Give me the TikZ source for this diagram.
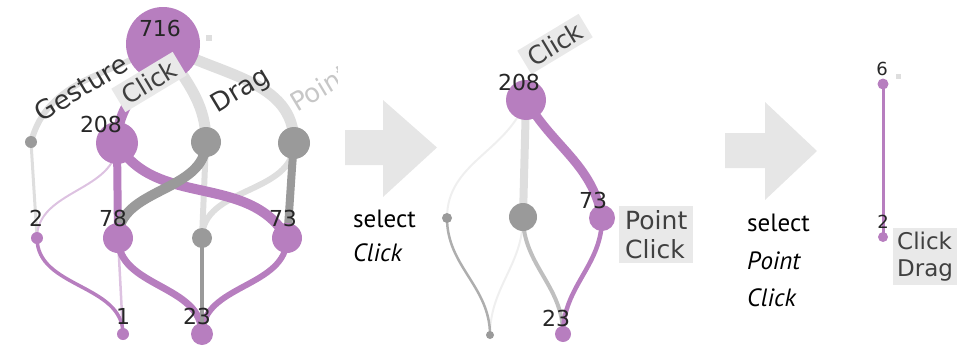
\documentclass[tikz,border=0pt]{standalone}
\usepackage{fontspec}
\setmainfont{DejaVu Sans}
\newfontfamily\notefont{PT Sans}
\begin{document}
\begin{tikzpicture}[x=1pt,y=-1pt,
  lbl/.style={font=\fontsize{26}{28}\selectfont, text=black!80, inner sep=0pt},
  num/.style={font=\fontsize{22}{24}\selectfont, text=black!85, inner sep=0pt},
  tag/.style={font=\fontsize{25}{29}\selectfont, text=black!75, fill=tagbg, inner sep=3pt, align=left},
  note/.style={font=\notefont\fontsize{25}{28}\selectfont, text=black, inner sep=0pt, anchor=west},
  dot/.style={circle, inner sep=0pt, minimum size=#1},
  pdot/.style={dot=#1, fill=pu},
  gdot/.style={dot=#1, fill=dg},
  flow/.style={line cap=round},
  vs/.style={out=-90,in=90},
  bigarrow/.style={fill=arrowbg},
]
\definecolor{pu}{HTML}{B77EBF}
\definecolor{lpu}{HTML}{DDC2E1}
\definecolor{dg}{HTML}{9A9A9A}
\definecolor{lg}{HTML}{DEDEDE}
\definecolor{vlg}{HTML}{EFEFEF}
\definecolor{tagbg}{HTML}{E9E9E9}
\definecolor{arrowbg}{HTML}{E6E6E6}
\useasboundingbox (0,0) rectangle (963,348);

% ---------- first level tree ----------
\coordinate (root) at (163,44);
\coordinate (ges)  at (31,142);
\coordinate (c208) at (117,143);
\coordinate (drag) at (206,142);
\coordinate (pnt)  at (294,143);
\coordinate (n2)   at (37,238);
\coordinate (n78)  at (118,238);
\coordinate (gs)   at (202,238);
\coordinate (n73)  at (287,238);
\coordinate (n1)   at (123,334);
\coordinate (n23)  at (202,334);

% light flows
\draw[flow, lg, line width=6pt] (root) to[out=-150,in=75] (ges);
\draw[flow, lg, line width=11pt] (root) to[out=-60,in=90] (drag);
\draw[flow, lg, line width=11pt] (root) to[out=-30,in=90] (pnt);
\draw[flow, lg, line width=3pt] (ges) -- (n2);
\draw[flow, lg, line width=6pt] (drag) -- (gs);
\draw[flow, lg, line width=6pt] (pnt) to[vs] (gs);
\draw[flow, lpu, line width=2pt] (c208) to[vs] (n2);
\draw[flow, lpu, line width=2.5pt] (n78) -- (n1);
% selected flows
\draw[flow, pu, line width=10pt] (root) to[out=-110,in=90] (c208);
\draw[flow, pu, line width=8pt] (c208) -- (n78);
\draw[flow, pu, line width=10pt] (c208) to[out=-60,in=120] (n73);
\draw[flow, pu, line width=3.5pt] (n2) to[vs] (n1);
\draw[flow, pu, line width=7pt] (n78) to[vs] (n23);
\draw[flow, pu, line width=6pt] (n73) to[vs] (n23);
% dark flows
\draw[flow, dg, line width=10pt] (drag) to[vs] (n78);
\draw[flow, dg, line width=8pt] (pnt) to[out=-95,in=85] (n73);
\draw[flow, dg, line width=4pt] (gs) -- (n23);

% nodes
\node[pdot=74pt] (Root) at (root) {};
\fill[lg] (206,35) rectangle (212,41);
\node[gdot=12pt] (Ges) at (ges) {};
\node[pdot=42pt] (C208) at (c208) {};
\node[gdot=30pt] (Drag) at (drag) {};
\node[gdot=32pt] (Pnt) at (pnt) {};
\node[pdot=12pt] (N2) at (n2) {};
\node[pdot=30pt] (N78) at (n78) {};
\node[gdot=20pt] (Gs) at (gs) {};
\node[pdot=30pt] (N73) at (n73) {};
\node[pdot=12pt] (N1) at (n1) {};
\node[pdot=22pt] (N23) at (n23) {};

% labels
\node[lbl, rotate=31] at (81,88) {Gesture};
\node[tag, rotate=31, inner xsep=6pt, inner ysep=4pt] at (149,82) {Click};
\node[lbl, rotate=31] at (241,91) {Drag};
\begin{scope}
  \clip (290,60) rectangle (337,130);
  \node[lbl, rotate=31, text=black!22, anchor=base west] at (297,113) {Point};
\end{scope}
\node[num] at (160,28) {716};
\node[num] at (101,124) {208};
\node[num] at (36,218) {2};
\node[num] at (113,218) {78};
\node[num] at (283,218) {73};
\node[num] at (123,316) {1};
\node[num] at (197,316) {23};

% ---------- first step ----------
\fill[bigarrow] (345,130) -- (383,130) -- (383,100) -- (437,147.5) -- (383,197) -- (383,165) -- (345,165) -- cycle;
\node[note] at (353,219) {select};
\node[note] at (353,253) {\itshape Click};

% ---------- second level tree ----------
\coordinate (b208) at (526,100);
\coordinate (bgm)  at (523,217);
\coordinate (bgs)  at (447,218);
\coordinate (b73)  at (602,218);
\coordinate (bgb)  at (490,335);
\coordinate (b23)  at (563,334);

\draw[flow, vlg, line width=2pt] (b208) to[out=-110,in=90] (bgs);
\draw[flow, vlg, line width=2pt] (bgm) to[vs] (bgb);
\draw[flow, lg, line width=8pt] (b208) -- (bgm);
\draw[flow, black!25, line width=4pt] (bgm) to[vs] (b23);
\draw[flow, dg!80, line width=2.5pt] (bgs) to[vs] (bgb);
\draw[flow, pu, line width=9pt] (b208) to[out=-60,in=100] (b73);
\draw[flow, pu, line width=4.5pt] (b73) to[vs] (b23);

\node[pdot=40pt] (B208) at (b208) {};
\node[gdot=28pt] (Bgm) at (bgm) {};
\node[gdot=10pt] (Bgs) at (bgs) {};
\node[pdot=26pt] (B73) at (b73) {};
\node[gdot=8pt] (Bgb) at (bgb) {};
\node[pdot=16pt] (B23) at (b23) {};

\node[tag, rotate=31, inner xsep=6pt, inner ysep=4pt] at (555,44) {Click};
\node[num] at (519,82) {208};
\node[num] at (593,200) {73};
\node[num] at (556,318) {23};
\node[tag, anchor=north west, inner xsep=6pt, inner ysep=4pt] at (619,206) {Point\\Click};

% ---------- second step ----------
\fill[bigarrow] (725,133) -- (765,133) -- (765,102) -- (817,151) -- (765,200) -- (765,168) -- (725,168) -- cycle;
\node[note] at (747,223) {select};
\node[note] at (747,261) {\itshape Point};
\node[note] at (747,298) {\itshape Click};

% ---------- third level tree ----------
\coordinate (c6) at (883,84);
\coordinate (c2) at (883,237);
\draw[flow, pu, line width=3pt] (c6) -- (c2);
\node[pdot=11pt] (C6) at (c6) {};
\node[pdot=10pt] (C2) at (c2) {};
\fill[lg] (896,74) rectangle (901,79);
\node[num, font=\fontsize{18}{20}\selectfont] at (882,69) {6};
\node[num, font=\fontsize{18}{20}\selectfont] at (883,222) {2};
\node[tag, anchor=north west, font=\fontsize{23}{27}\selectfont, inner xsep=4pt, inner ysep=4pt] at (893,228) {Click\\Drag};
\end{tikzpicture}
\end{document}
